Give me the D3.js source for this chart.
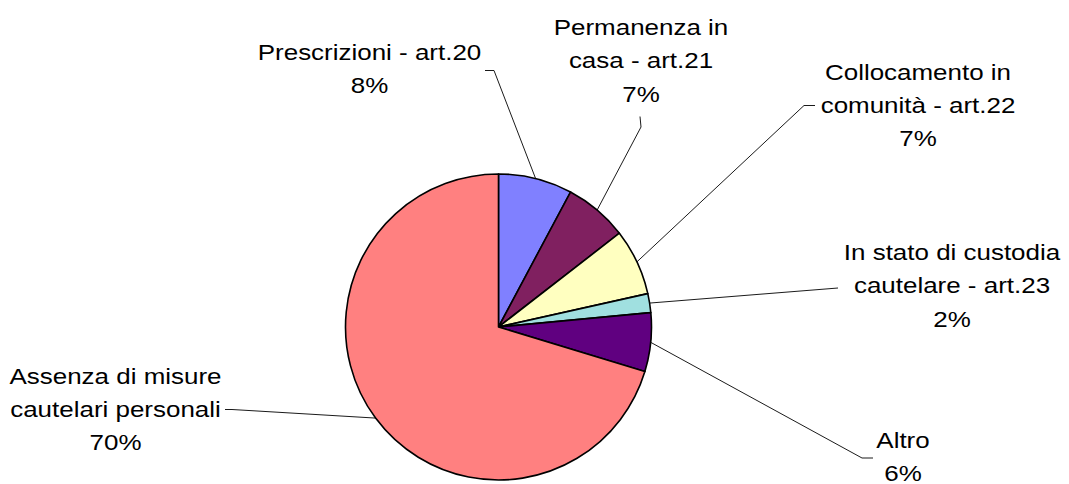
<!DOCTYPE html>
<html>
<head>
<meta charset="utf-8">
<script src="https://cdn.jsdelivr.net/npm/d3@7"></script>
<style>
  html, body { margin: 0; padding: 0; background: #fff; }
  svg { display: block; }
  text { font-family: "Liberation Sans", Arial, sans-serif; font-size: 22px; fill: #000; }
</style>
</head>
<body>
<div id="chart"></div>
<script>
var w = 1069,
  h = 484;

// data
var categories = [
  ["Prescrizioni - art.20"],
  ["Permanenza in", "casa - art.21"],
  ["Collocamento in", "comunità - art.22"],
  ["In stato di custodia", "cautelare - art.23"],
  ["Altro"],
  ["Assenza di misure", "cautelari personali"],
];
var values = [7.8, 6.7, 7.0, 2.0, 6.2, 70.3];
var colors = ["#8080ff", "#802060", "#ffffc0", "#a0e0e0", "#600080", "#ff8080"];

// label layout: centre x, first baseline, leader start and elbow
var labelPos = [
  { x: 369.5, y: 59.5, start: [485, 70.5], elbow: [494, 70.5] },
  { x: 641, y: 35, start: [640, 116.5], elbow: [641, 127] },
  { x: 918, y: 79.5, start: [815, 105.5], elbow: [804, 105.5] },
  { x: 952, y: 260, start: [838, 288], elbow: [838, 288] },
  { x: 903, y: 448, start: [873, 458], elbow: [862, 458] },
  { x: 115.5, y: 383.5, start: [225, 409.5], elbow: [232, 409.5] },
];

var cx = 498.5,
  cy = 327,
  radius = 153,
  lineH = 33.5,
  stretch = 1.18;

var svg = d3
  .select("#chart")
  .append("svg")
  .attr("width", w)
  .attr("height", h);

var total = d3.sum(values);

var pie = d3.pie().sort(null).value((d) => d);
var arcs = pie(values);

var arc = d3.arc().innerRadius(0).outerRadius(radius);

var g = svg.append("g").attr("transform", `translate(${cx}, ${cy})`);

g.selectAll("path")
  .data(arcs)
  .enter()
  .append("path")
  .attr("d", arc)
  .attr("fill", (d, i) => colors[i])
  .attr("stroke", "#000")
  .attr("stroke-width", 1.6)
  .attr("stroke-linejoin", "round");

// leader lines
svg
  .selectAll(".leader")
  .data(arcs)
  .enter()
  .append("polyline")
  .attr("class", "leader")
  .attr("fill", "none")
  .attr("stroke", "#000")
  .attr("stroke-width", 0.9)
  .attr("points", (d, i) => {
    var a = (d.startAngle + d.endAngle) / 2;
    var px = cx + radius * Math.sin(a),
      py = cy - radius * Math.cos(a);
    var p = labelPos[i];
    return [p.start, p.elbow, [px, py]].map((q) => q.join(",")).join(" ");
  });

// labels
var labels = svg
  .selectAll(".label")
  .data(arcs)
  .enter()
  .append("g")
  .attr("class", "label")
  .attr("transform", (d, i) => `translate(${labelPos[i].x}, ${labelPos[i].y}) scale(${stretch}, 1)`);

labels.each(function (d, i) {
  var lines = categories[i].concat([Math.round((d.value / total) * 100) + "%"]);
  d3.select(this)
    .selectAll("text")
    .data(lines)
    .enter()
    .append("text")
    .attr("text-anchor", "middle")
    .attr("y", (t, j) => j * lineH)
    .text((t) => t);
});
</script>
</body>
</html>
